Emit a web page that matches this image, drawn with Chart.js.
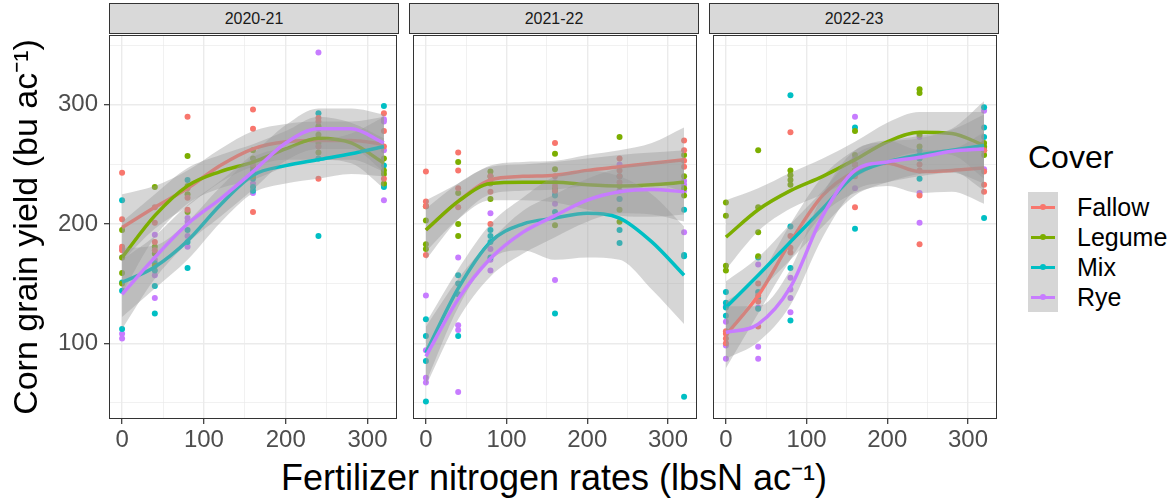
<!DOCTYPE html>
<html>
<head>
<meta charset="utf-8">
<title>Corn grain yield by N rate and cover</title>
<script src="https://cdn.jsdelivr.net/npm/chart.js@4.4.1/dist/chart.umd.min.js"></script>
<style>
  html, body { margin: 0; padding: 0; background: #fff; }
  #wrap { position: relative; width: 1172px; height: 501px; overflow: hidden;
          font-family: "Liberation Sans", Arial, sans-serif; }
  #wrap canvas { position: absolute; }
  .strip { position: absolute; top: 3px; height: 29px; width: 288px; background: #d9d9d9;
           border: 1px solid #333; color: #1a1a1a; font-size: 16px; line-height: 29px; text-align: center; }
  #xtitle { position: absolute; left: 109px; width: 890px; top: 458px; font-size: 36px;
            line-height: 40px; text-align: center; color: #000; white-space: nowrap; }
  #legendTitle { position: absolute; left: 1028px; top: 141px; font-size: 32px; line-height: 32px; color: #000; }
  .key { position: absolute; left: 1028px; width: 30px; height: 30px; background: #d6d6d6; }
  .key .ln { position: absolute; left: 3px; width: 24px; top: 13.5px; height: 3px; }
  .key .dot { position: absolute; left: 12px; top: 12px; width: 6px; height: 6px; border-radius: 50%; }
  .lab { position: absolute; left: 1077px; font-size: 25px; line-height: 30px; color: #000; }
</style>
</head>
<body>
<div id="wrap">
  <div id="xtitle">Fertilizer nitrogen rates (lbsN ac⁻¹)</div>
  <div id="legendTitle">Cover</div>
</div>
<script>
// ----- Data -----
const years       = ['2020-21', '2021-22', '2022-23'];
const covers      = ['Fallow', 'Legume', 'Mix', 'Rye'];
const coverColors = ['#F8766D', '#7CAE00', '#00BFC4', '#C77CFF'];
const nRates      = [0, 40, 80, 160, 240, 320];
const xTicks      = [0, 100, 200, 300];
const xMinor      = [50, 150, 250];
const yTicks      = [100, 200, 300];
const yMinor      = [50, 150, 250, 350];
const smoothX     = [0, 40, 80, 120, 160, 200, 240, 280, 320];
const yTitle      = 'Corn grain yield (bu ac⁻¹)';

// observed plot yields: [cover][rate] -> replicate values
const obs2020 = [
  [[243, 204, 181, 178], [214, 201, 178, 185], [290, 230, 222, 212], [296, 280, 250, 210], [289, 286, 265, 238], [293, 278, 265, 238]],
  [[195, 172, 159, 150], [231, 181, 165, 175], [257, 232, 225, 210], [262, 255, 248, 240], [282, 275, 268, 260], [255, 242, 234, 245]],
  [[220, 151, 144, 112], [167, 161, 148, 125], [237, 195, 185, 163], [245, 238, 231, 228], [293, 270, 255, 190], [299, 249, 233, 231]],
  [[179, 172, 108, 104], [191, 170, 157, 138], [205, 202, 190, 181], [234, 226, 245, 240], [344, 280, 272, 265], [288, 286, 262, 220]]
];
const obs2021 = [
  [[244, 219, 174, 215], [260, 245, 214, 230], [227, 200, 240, 235], [268, 240, 232, 228], [255, 245, 240, 235], [270, 262, 253, 248]],
  [[215, 203, 183, 179], [252, 226, 200, 190], [244, 240, 234, 221], [259, 246, 199, 230], [273, 232, 212, 202], [258, 230, 224, 240]],
  [[120, 106, 85, 51], [157, 141, 106, 150], [190, 172, 185, 195], [228, 224, 210, 125], [240, 221, 195, 184], [212, 174, 173, 55]],
  [[140, 94, 71, 67], [172, 115, 111, 59], [209, 179, 161, 170], [217, 153, 235, 225], [250, 221, 232, 228], [236, 233, 193, 228]]
];
const obs2022 = [
  [[108, 104, 110, 100], [114, 140, 135, 150], [277, 180, 176, 190], [214, 250, 245, 240], [224, 183, 250, 245], [244, 233, 227, 262]],
  [[218, 207, 165, 161], [262, 214, 193, 173], [241, 237, 233, 245], [278, 258, 250, 245], [313, 310, 275, 265], [268, 262, 265, 258]],
  [[143, 134, 123, 130], [172, 143, 138, 129], [308, 198, 163, 119], [281, 196, 245, 250], [238, 262, 258, 255], [298, 281, 273, 205]],
  [[131, 118, 98, 87], [166, 130, 97, 87], [155, 138, 126, 145], [290, 230, 255, 250], [273, 226, 201, 255], [295, 264, 246, 262]]
];

// loess fits and confidence limits at smoothX: [cover] -> values
const fit2020 = [
  [197, 214, 230, 249, 263, 269, 270, 270, 267],
  [172, 207, 232, 244, 252, 263, 272, 268, 251],
  [151, 164, 186, 216, 241, 249, 254, 259, 265],
  [141, 172, 200, 221, 244, 268, 280, 280, 268]
];
const hi2020 = [
  [225, 232, 245, 263, 278, 284, 286, 286, 290],
  [202, 225, 247, 258, 267, 278, 290, 285, 272],
  [180, 182, 202, 231, 256, 264, 270, 276, 290],
  [170, 190, 216, 236, 259, 283, 297, 297, 292]
];
const lo2020 = [
  [169, 196, 215, 235, 248, 254, 254, 254, 244],
  [142, 189, 217, 230, 237, 248, 254, 251, 230],
  [122, 146, 170, 201, 226, 234, 238, 242, 240],
  [112, 154, 184, 206, 229, 253, 263, 263, 244]
];
const fit2021 = [
  [195, 219, 237, 240, 241, 245, 248, 251, 254],
  [195, 219, 234, 235, 235, 233, 232, 233, 235],
  [92, 146, 185, 200, 205, 209, 205, 185, 157],
  [89, 137, 171, 193, 207, 220, 227, 229, 227]
];
const hi2021 = [
  [220, 234, 249, 252, 253, 258, 262, 268, 281],
  [213, 234, 248, 250, 252, 255, 258, 260, 262],
  [117, 162, 200, 222, 240, 245, 240, 225, 198],
  [114, 154, 186, 211, 225, 238, 247, 252, 254]
];
const lo2021 = [
  [170, 204, 225, 228, 229, 232, 234, 234, 227],
  [177, 204, 220, 220, 218, 212, 207, 206, 208],
  [67, 130, 170, 178, 170, 172, 170, 145, 116],
  [64, 120, 156, 175, 189, 202, 209, 208, 202]
];
const fit2022 = [
  [107, 140, 185, 224, 244, 251, 244, 245, 247],
  [189, 212, 228, 240, 254, 269, 277, 276, 266],
  [130, 157, 185, 213, 241, 252, 258, 262, 266],
  [109, 116, 147, 207, 245, 252, 256, 261, 263]
];
const hi2022 = [
  [135, 155, 200, 240, 262, 270, 262, 263, 277],
  [220, 230, 243, 255, 269, 285, 294, 294, 294],
  [152, 172, 200, 228, 258, 269, 274, 280, 303],
  [131, 131, 162, 225, 262, 269, 272, 279, 292]
];
const lo2022 = [
  [79, 125, 170, 208, 226, 232, 226, 227, 217],
  [162, 194, 213, 225, 239, 253, 260, 258, 238],
  [108, 142, 170, 198, 224, 235, 242, 244, 228],
  [87, 101, 132, 189, 228, 235, 240, 243, 234]
];

// ----- Layout (page pixels) -----
const PANEL_LEFT = [109, 409, 709];
const PANEL_W = 290;
const PANEL_TOP = 33;
const PANEL_H = 386;
const X_AXIS_H = 45;
const Y_AXIS_W = 109;
const BAND_FILL = 'rgba(153,153,153,0.4)';

Chart.defaults.font.family = '"Liberation Sans", Arial, sans-serif';

const wrap = document.getElementById('wrap');

// panel frame (theme_bw style border)
const panelBorder = {
  id: 'panelBorder',
  afterDraw(chart) {
    const { ctx, chartArea: a } = chart;
    ctx.save();
    ctx.strokeStyle = '#333333';
    ctx.lineWidth = 1;
    ctx.strokeRect(Math.round(a.left) + 0.5, Math.round(a.top) + 0.5,
                   Math.round(a.right - a.left) - 1, Math.round(a.bottom - a.top) - 1);
    ctx.restore();
  }
};

const gridColor = ctx => '#ebebeb';
const gridWidth = major => ctx => major.includes(ctx.tick.value) ? 1.4 : 0.7;
const tickColor = major => ctx => major.includes(ctx.tick.value) ? '#333333' : 'rgba(0,0,0,0)';

function buildDatasets(obs, fit, lo, hi) {
  const ds = [];
  // raw points underneath everything
  covers.forEach((c, k) => {
    const pts = [];
    nRates.forEach((x, j) => obs[k][j].forEach(y => pts.push({ x, y })));
    ds.push({
      label: c + ' plots', data: pts, showLine: false,
      pointRadius: 3, pointBorderWidth: 0,
      pointBackgroundColor: coverColors[k], borderColor: coverColors[k],
      order: 100
    });
  });
  // per cover: ribbon then line (later covers drawn on top)
  covers.forEach((c, k) => {
    const xy = arr => smoothX.map((x, j) => ({ x, y: arr[j] }));
    const base = 60 - k * 3;
    ds.push({
      label: c + ' lower', data: xy(lo[k]), borderColor: 'rgba(0,0,0,0)', borderWidth: 0,
      pointRadius: 0, fill: false, cubicInterpolationMode: 'monotone', order: base
    });
    ds.push({
      label: c + ' upper', data: xy(hi[k]), borderColor: 'rgba(0,0,0,0)', borderWidth: 0,
      pointRadius: 0, fill: '-1', backgroundColor: BAND_FILL,
      cubicInterpolationMode: 'monotone', order: base - 1
    });
    ds.push({
      label: c, data: xy(fit[k]), borderColor: coverColors[k], borderWidth: 3.5,
      pointRadius: 0, fill: false, cubicInterpolationMode: 'monotone', order: base - 2
    });
  });
  return ds;
}

const panelData = [
  [obs2020, fit2020, lo2020, hi2020],
  [obs2021, fit2021, lo2021, hi2021],
  [obs2022, fit2022, lo2022, hi2022]
];

years.forEach((year, i) => {
  const first = i === 0;
  const yw = first ? Y_AXIS_W : 0;

  const cv = document.createElement('canvas');
  cv.width = yw + PANEL_W + 2;
  cv.height = 2 + PANEL_H + X_AXIS_H;
  cv.style.left = (PANEL_LEFT[i] - yw) + 'px';
  cv.style.top = (PANEL_TOP - 2) + 'px';
  wrap.appendChild(cv);

  const strip = document.createElement('div');
  strip.className = 'strip';
  strip.style.left = PANEL_LEFT[i] + 'px';
  strip.textContent = year;
  wrap.appendChild(strip);

  const [obs, fit, lo, hi] = panelData[i];

  new Chart(cv, {
    type: 'line',
    data: { datasets: buildDatasets(obs, fit, lo, hi) },
    options: {
      responsive: false,
      animation: false,
      events: [],
      layout: { padding: { top: 2, right: 2, left: 0, bottom: 0 } },
      plugins: { legend: { display: false }, tooltip: { enabled: false } },
      scales: {
        x: {
          type: 'linear', min: -16, max: 336,
          afterBuildTicks: s => { s.ticks = [...xTicks, ...xMinor].sort((a, b) => a - b).map(v => ({ value: v })); },
          afterFit: s => { s.height = X_AXIS_H; s.paddingLeft = 0; s.paddingRight = 0; },
          ticks: {
            autoSkip: false, maxRotation: 0, padding: 2, color: '#4d4d4d',
            font: { size: 24 },
            callback: v => xTicks.includes(v) ? String(v) : ''
          },
          grid: {
            color: gridColor, lineWidth: gridWidth(xTicks),
            tickLength: 5, tickColor: tickColor(xTicks), tickWidth: 1.2
          },
          border: { display: false }
        },
        y: {
          type: 'linear', min: 36.4, max: 358.6,
          afterBuildTicks: s => { s.ticks = [...yTicks, ...yMinor].sort((a, b) => a - b).map(v => ({ value: v })); },
          afterFit: s => { s.width = yw; s.paddingTop = 0; s.paddingBottom = 0; },
          ticks: {
            display: first, autoSkip: false, padding: 6, color: '#4d4d4d',
            font: { size: 24 },
            callback: v => yTicks.includes(v) ? String(v) : ''
          },
          grid: {
            color: gridColor, lineWidth: gridWidth(yTicks),
            drawTicks: first, tickLength: 5, tickColor: tickColor(yTicks), tickWidth: 1.2
          },
          title: {
            display: first, text: yTitle, color: '#000000',
            font: { size: 34 }, padding: { top: 7, bottom: 0 }
          },
          border: { display: false }
        }
      }
    },
    plugins: [panelBorder]
  });
});

// ----- Legend -----
covers.forEach((c, k) => {
  const top = 192 + k * 30;
  const key = document.createElement('div');
  key.className = 'key';
  key.style.top = top + 'px';
  key.innerHTML = `<div class="ln" style="background:${coverColors[k]}"></div>` +
                  `<div class="dot" style="background:${coverColors[k]}"></div>`;
  wrap.appendChild(key);

  const lab = document.createElement('div');
  lab.className = 'lab';
  lab.style.top = top + 'px';
  lab.textContent = c;
  wrap.appendChild(lab);
});
</script>
</body>
</html>
